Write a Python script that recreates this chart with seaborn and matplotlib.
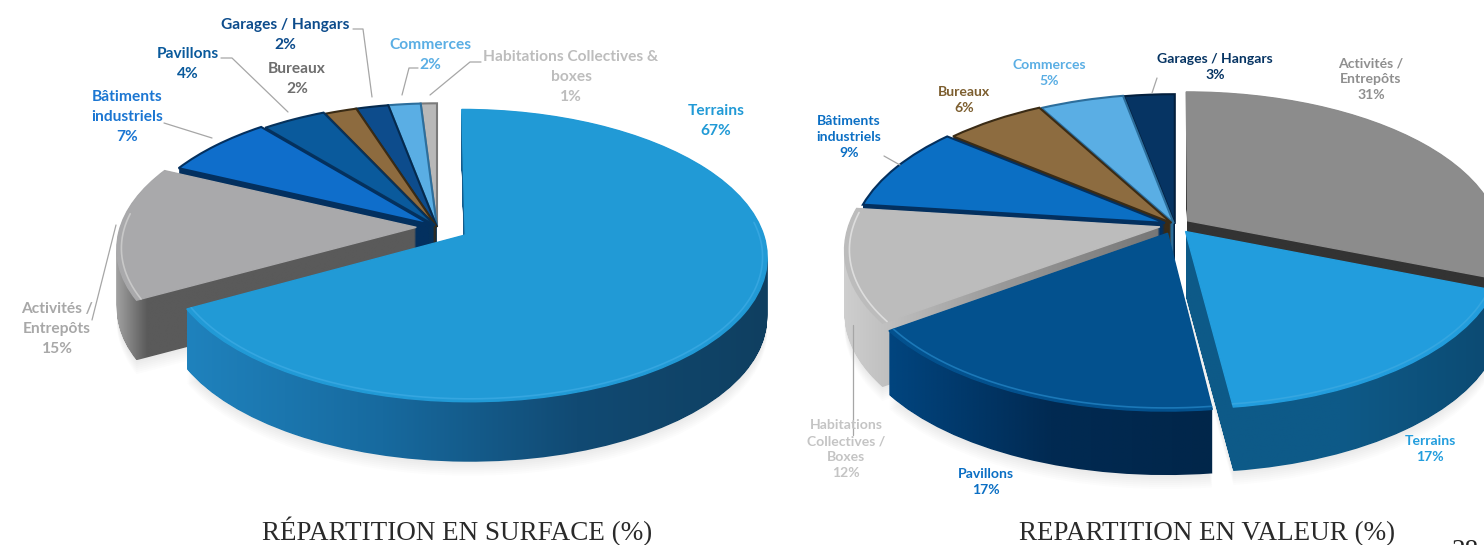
import numpy as np
import matplotlib
matplotlib.use("Agg")
import matplotlib.pyplot as plt
import seaborn as sns
from matplotlib.colors import to_rgb
from matplotlib.patches import PathPatch
from matplotlib.path import Path
from matplotlib.transforms import Affine2D, Transform

sns.set_theme(style="white")
plt.rcParams["font.family"] = ["Lato", "DejaVu Sans"]

WIDTH, HEIGHT = 1484, 545

# ---- surface chart data ----
surface_names = ["Terrains", "Activités / Entrepôts", "Bâtiments industriels", "Pavillons",
                 "Bureaux", "Garages / Hangars", "Commerces", "Habitations Collectives & boxes"]
surface_values = [67, 15, 7, 4, 2, 2, 2, 1]
surface_top = ["#219ad6", "#a9a9ab", "#0f6ecb", "#0a5a9c", "#8d6b3f", "#0d4c8c", "#5aaee4", "#b8b8b8"]
surface_side = [["#1f82bd", "#176a9f", "#114a73", "#0f3f60"], ["#a8a8a8"] + ["#5a5a5a"] * 9,
                ["#03305f"], ["#06325c"], ["#3a2b15"], ["#052a4e"], ["#2c6e9c"], ["#7a7a7a"]]
surface_rim = ["#35a6e0", "#c8c8c8", None, None, None, None, None, None]
surface_explode = [0.11, 0.07, 0.028, 0.012, 0.0, 0.0, 0.0, 0.0]
surface_layers = [7, 6, 5, 4, 3, 2, 1, 0]

# ---- value chart data ----
value_names = ["Activités / Entrepôts", "Terrains", "Pavillons", "Habitations Collectives / Boxes",
               "Bâtiments industriels", "Bureaux", "Commerces", "Garages / Hangars"]
value_values = [31, 17, 17, 12, 9, 6, 5, 3]
value_top = ["#8c8c8c", "#229ddd", "#03518e", "#bcbcbc", "#0b6fc4", "#8d6c40", "#5aaee4", "#063463"]
value_side = [["#333333"], ["#0d5a88", "#0e5a88", "#0c4a72"], ["#01457f", "#012a52", "#01264a"],
              ["#cfcfcf", "#999999", "#777777"], ["#03305f"], ["#3a2b15"], ["#2c6e9c"], ["#031f3d"]]
value_rim = ["#8c8c8c", "#35a6e0", "#1b78b8", "#dddddd", None, None, None, None]
value_explode = [0.05, 0.055, 0.06, 0.05, 0.035, 0.018, 0.012, 0.008]
value_layers = [0, 6, 7, 5, 4, 3, 2, 1]

# ---- text ----
surface_labels = [
    ("Terrains\n67%", 716, 121, "#219ad6"),
    ("Activités /\nEntrepôts\n15%", 57, 329, "#a8a8a8"),
    ("Bâtiments\nindustriels\n7%", 127, 117, "#1b76d2"),
    ("Pavillons\n4%", 188, 64, "#0a5a9c"),
    ("Bureaux\n2%", 297, 79, "#6e6e6e"),
    ("Garages / Hangars\n2%", 285, 35, "#0d4c8c"),
    ("Commerces\n2%", 430, 55, "#5aaee4"),
    ("Habitations Collectives &\nboxes\n1%", 571, 77, "#bdbdbd"),
]
value_labels = [
    ("Activités /\nEntrepôts\n31%", 1371, 79, "#8f8f8f"),
    ("Terrains\n17%", 1430, 449, "#229ddd"),
    ("Pavillons\n17%", 986, 482, "#0b6fc4"),
    ("Habitations\nCollectives /\nBoxes\n12%", 846, 449, "#c4c4c4"),
    ("Bâtiments\nindustriels\n9%", 849, 137, "#0b6fc4"),
    ("Bureaux\n6%", 964, 100, "#7d5f30"),
    ("Commerces\n5%", 1049, 73, "#5aaee4"),
    ("Garages / Hangars\n3%", 1215, 67, "#063463"),
]
leaders = [
    [(353, 29), (363, 29), (372, 97)],
    [(221, 58), (232, 58), (288, 112)],
    [(164, 123), (212, 138)],
    [(418, 68), (409, 68), (402, 95)],
    [(481, 62), (470, 62), (430, 95)],
    [(92, 320), (116, 225)],
    [(884, 156), (900, 165)],
    [(853, 435), (853, 325)],
    [(1157, 78), (1152, 93)],
]
titles = [("RÉPARTITION EN SURFACE (%)", 457, 540), ("REPARTITION EN VALEUR (%)", 1207, 540)]


class Tilted(Transform):
    """Projects the unit pie on to a receding horizontal plane, in pixels."""
    input_dims = output_dims = 2
    is_separable = False
    has_inverse = False

    def __init__(self, rx, ry, tilt):
        super().__init__()
        self.rx, self.ry, self.tilt = rx, ry, tilt

    def transform_non_affine(self, values):
        values = np.asarray(values)
        w = 1 + self.tilt * values[:, 1]
        return np.column_stack([self.rx * values[:, 0] / w, self.ry * values[:, 1] / w])


def to_y(py):
    return HEIGHT - py


def draw_pie(ax, values, top, side, rim, explode, layers, cx, cy, rx, ry, tilt, depth):
    wedges, _ = ax.pie(values, colors=sns.color_palette(top), startangle=90, counterclock=False,
                       explode=explode, radius=1)
    plane = Tilted(rx, ry, tilt)
    origin = Affine2D().translate(cx, to_y(cy))
    for wedge, stops, rim_color, layer, base in zip(wedges, side, rim, layers, top):
        z = 2 + layer
        path = wedge.get_path()
        flat = plane.transform_path_non_affine(path)
        flat = origin.transform_path(Path(flat.vertices, flat.codes))
        # soft ground shadow just below the wall
        for d in range(2, 16, 2):
            ax.add_patch(PathPatch(Path(flat.vertices - [0, depth + d], flat.codes), fc="black",
                                   alpha=0.012, lw=0, zorder=1))
        # side wall: the top outline repeated downward, then filled with a gradient
        steps = [Path(flat.vertices - [0, d], flat.codes) for d in np.arange(0, depth + 1, 1.0)]
        wall = Path.make_compound_path(*steps)
        x0, y0 = wall.vertices.min(axis=0)
        x1, y1 = wall.vertices.max(axis=0)
        rgb = np.array([to_rgb(c) for c in stops] * (2 if len(stops) == 1 else 1))
        grid = np.linspace(0, len(rgb) - 1, 256)
        ramp = np.column_stack([np.interp(grid, np.arange(len(rgb)), rgb[:, i]) for i in range(3)])
        im = ax.imshow(ramp[None, :, :], extent=(x0, x1, y0, y1), aspect="auto", zorder=z,
                       interpolation="bilinear")
        im.set_clip_path(wall, ax.transData)
        # top face
        wedge.set_transform(plane + origin + ax.transData)
        wedge.set_zorder(z + 0.2)
        wedge.set_edgecolor(stops[-1] if rim_color is None else base)
        wedge.set_linewidth(1.5 if rim_color is None else 1.0)
        # lit edge along the near part of the rim
        if rim_color:
            theta = np.radians(np.linspace(wedge.theta1, wedge.theta2, 200))
            ring = np.column_stack([wedge.center[0] + 0.985 * np.cos(theta),
                                    wedge.center[1] + 0.985 * np.sin(theta)])
            ring = ring[np.sin(theta) < 0.1]
            pts = origin.transform(plane.transform_non_affine(ring))
            ax.plot(pts[:, 0], pts[:, 1], color=rim_color, lw=1.2, zorder=z + 0.3,
                    solid_capstyle="round")


fig = plt.figure(figsize=(WIDTH / 100, HEIGHT / 100), dpi=100, facecolor="white")
ax = fig.add_axes([0, 0, 1, 1])

draw_pie(ax, surface_values, surface_top, surface_side, surface_rim, surface_explode, surface_layers,
         437, 227, 296, 141, 0.14, 60)
draw_pie(ax, value_values, value_top, value_side, value_rim, value_explode, value_layers,
         1175, 225, 311, 149, 0.147, 64)

ax.set_aspect("auto")
ax.set_xlim(0, WIDTH)
ax.set_ylim(0, HEIGHT)
ax.axis("off")

for pts in leaders:
    xs, ys = zip(*pts)
    ax.plot(xs, [to_y(y) for y in ys], color="#a6a6a6", lw=0.9, zorder=20)

for text, x, y, color in surface_labels:
    ax.text(x, to_y(y), text, color=color, fontsize=11.2, fontweight="bold", ha="center", va="center",
            linespacing=1.55, zorder=21)
for text, x, y, color in value_labels:
    ax.text(x, to_y(y), text, color=color, fontsize=10.1, fontweight="bold", ha="center", va="center",
            linespacing=1.4, zorder=21)
for text, x, y in titles:
    ax.text(x, to_y(y), text, color="#2a2a2a", fontsize=19.5, family="Liberation Serif", ha="center",
            va="baseline", zorder=21)
ax.text(1465, to_y(558), "28", color="#222222", fontsize=19.5, family="Liberation Serif", ha="center",
        va="baseline", zorder=21)

fig.savefig("out.png", dpi=100)
